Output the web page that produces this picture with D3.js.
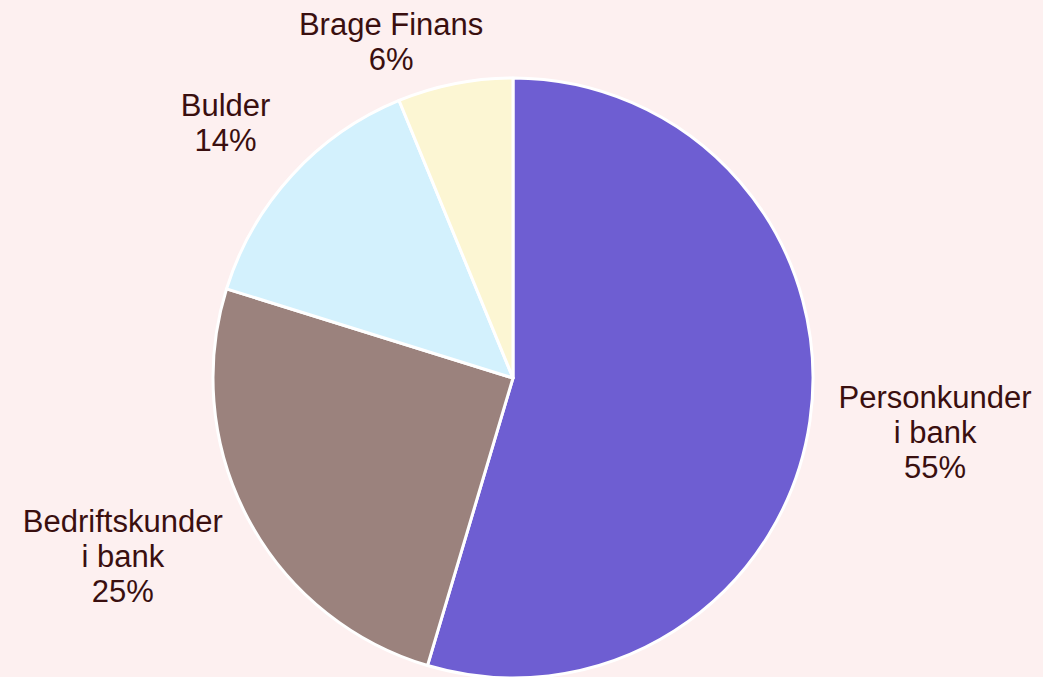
<!DOCTYPE html>
<html>
<head>
<meta charset="utf-8">
<script src="https://cdn.jsdelivr.net/npm/d3@7"></script>
<style>
    html, body { margin: 0; padding: 0; background: #fdf0f0; }
    svg { display: block; }
    .slice-label { font-family: "Liberation Sans", Arial, sans-serif; font-size: 31px; fill: #3a0f0f; }
</style>
</head>
<body>
<div id="chart"></div>
<script>
// slice data, clockwise from 12 o'clock
const categories = ["Personkunder i bank", "Bedriftskunder i bank", "Bulder", "Brage Finans"];
const labelLines = [["Personkunder", "i bank"], ["Bedriftskunder", "i bank"], ["Bulder"], ["Brage Finans"]];
const shares = [54.6, 25.2, 14.0, 6.2];
const colors = ["#6e5ed2", "#9b827d", "#d3f1fd", "#fcf6d3"];

const width = 1043, height = 677;
const cx = 513, cy = 378, radius = 300;
const lineHeight = 35;

let svg = d3.select("#chart").append("svg")
    .attr("width", width)
    .attr("height", height);

svg.append("rect")
    .attr("width", width)
    .attr("height", height)
    .attr("fill", "#fdf0f0");

let data = categories.map((c, i) => ({name: c, lines: labelLines[i], value: shares[i], color: colors[i]}));

let pie = d3.pie().sort(null).value(d => d.value);
let arc = d3.arc().innerRadius(0).outerRadius(radius);

let g = svg.append("g").attr("transform", "translate(" + cx + "," + cy + ")");

let arcs = pie(data);

g.selectAll("path")
    .data(arcs).enter()
    .append("path")
    .attr("d", arc)
    .attr("fill", d => d.data.color)
    .attr("stroke", "#ffffff")
    .attr("stroke-width", 3)
    .attr("stroke-linejoin", "round");

// labels sit outside the pie, edge-aligned toward it
let labelRx = 329, labelRy = 378;
// Brage Finans gets pushed in by the top edge, shift it a bit
let nudge = {"Brage Finans": 34};

arcs.forEach(function(a) {
    let mid = (a.startAngle + a.endAngle) / 2;
    let dx = Math.sin(mid), dy = -Math.cos(mid);
    let lines = a.data.lines.concat([Math.round(a.data.value) + "%"]);
    let x = labelRx * dx + (nudge[a.data.name] || 0);
    let yc = labelRy * dy;
    let firstBase = yc - (lines.length - 1) / 2 * lineHeight + 11;
    if (firstBase + cy < 35) firstBase = 35 - cy;

    let t = g.append("text")
        .attr("class", "slice-label")
        .attr("text-anchor", "middle");

    // measure widest line to center the block against the anchor edge
    let tmp = g.append("text").attr("class", "slice-label");
    let w = 0;
    lines.forEach(l => {
        tmp.text(l);
        w = Math.max(w, tmp.node().getComputedTextLength());
    });
    tmp.remove();

    let centerX = dx >= 0 ? x + w / 2 : x - w / 2;

    lines.forEach((l, i) => {
        t.append("tspan")
            .attr("x", centerX)
            .attr("y", firstBase + i * lineHeight)
            .text(l);
    });
});
</script>
</body>
</html>
